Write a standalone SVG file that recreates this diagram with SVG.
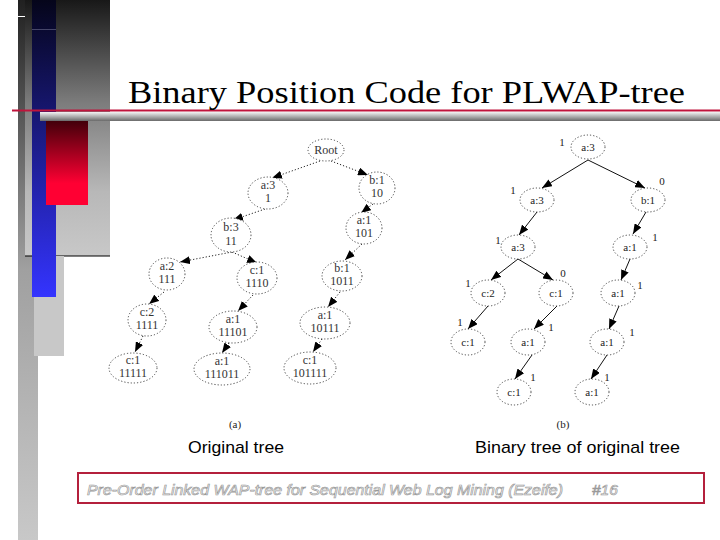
<svg xmlns="http://www.w3.org/2000/svg" width="720" height="540" viewBox="0 0 720 540">
<defs>
<linearGradient id="gOuter" x1="0" y1="0" x2="0" y2="1"><stop offset="0" stop-color="#202020"/><stop offset="0.5" stop-color="#a0a0a0"/><stop offset="1" stop-color="#c8c8c8"/></linearGradient>
<linearGradient id="gBlock" x1="0" y1="0" x2="0" y2="1"><stop offset="0" stop-color="#181818"/><stop offset="0.4" stop-color="#7c7c7c"/><stop offset="0.75" stop-color="#b8b8b8"/><stop offset="1" stop-color="#c8c8c8"/></linearGradient>
<linearGradient id="gBlue" x1="0" y1="0" x2="0" y2="1"><stop offset="0" stop-color="#05051a"/><stop offset="1" stop-color="#3434ff"/></linearGradient>
<linearGradient id="gRed" x1="0" y1="0" x2="0" y2="1"><stop offset="0" stop-color="#3a0008"/><stop offset="0.75" stop-color="#ff0033"/><stop offset="1" stop-color="#ff0033"/></linearGradient>
<linearGradient id="gShade" x1="0" y1="0" x2="0" y2="1"><stop offset="0" stop-color="#f4f4f4"/><stop offset="1" stop-color="#6a6a6a"/></linearGradient>
<marker id="ah" viewBox="0 0 10 8" refX="10" refY="4" markerWidth="10" markerHeight="8" markerUnits="userSpaceOnUse" orient="auto"><path d="M0,0 L10,4 L0,8 z" fill="#000"/></marker>
<style>
.nd{fill:#fff;stroke:#333;stroke-width:0.9;stroke-dasharray:1.2,2}
.lt{font-family:"Liberation Serif",serif;font-size:12px;fill:#333;text-anchor:middle}
.rt{font-family:"Liberation Serif",serif;font-size:11px;fill:#222;text-anchor:middle}
.num{font-family:"Liberation Serif",serif;font-size:11px;fill:#222;text-anchor:middle}
.dl{stroke:#222;stroke-width:1;stroke-dasharray:1.2,2;fill:none;marker-end:url(#ah)}
.sl{stroke:#111;stroke-width:1;fill:none;marker-end:url(#ah)}
.cap{font-family:"Liberation Sans",Arial,sans-serif;font-size:17px;fill:#000}
</style>
</defs>
<rect width="720" height="540" fill="#fff"/>
<g id="decor">
<rect x="18" y="0" width="20" height="540" fill="url(#gOuter)"/>
<rect x="25" y="0" width="85" height="256" fill="url(#gBlock)"/>
<line x1="25" y1="256" x2="110" y2="256" stroke="#000" stroke-width="1"/>
<rect x="34" y="256" width="30" height="100" fill="#c8c8c8"/>
<rect x="32" y="0" width="24" height="297" fill="url(#gBlue)"/>
<line x1="32" y1="29.5" x2="56" y2="29.5" stroke="#555577" stroke-width="0.8"/>
<rect x="46" y="118" width="42" height="87" fill="url(#gRed)"/>
<rect x="40" y="112" width="680" height="9" fill="url(#gShade)"/>
<line x1="12" y1="110.5" x2="720" y2="110.5" stroke="#c0143c" stroke-width="2"/>
<line x1="18" y1="16.5" x2="25" y2="16.5" stroke="#fff" stroke-width="1"/>
</g>
<text x="128" y="103" font-family="'Liberation Serif',serif" font-size="31" fill="#000" textLength="557" lengthAdjust="spacingAndGlyphs">Binary Position Code for PLWAP-tree</text>
<g id="connectors">
<line class="dl" x1="320" y1="161" x2="272" y2="178"/>
<line class="dl" x1="331" y1="161" x2="368" y2="175"/>
<line class="dl" x1="265" y1="209" x2="233" y2="220"/>
<line class="dl" x1="373" y1="204" x2="361" y2="213"/>
<line class="dl" x1="362" y1="244" x2="345" y2="260"/>
<line class="dl" x1="232" y1="252" x2="180" y2="262"/>
<line class="dl" x1="232" y1="252" x2="257" y2="263"/>
<line class="dl" x1="164" y1="292" x2="149" y2="304"/>
<line class="dl" x1="143" y1="336" x2="135" y2="352"/>
<line class="dl" x1="253" y1="295" x2="238" y2="311"/>
<line class="dl" x1="229" y1="343" x2="222" y2="353"/>
<line class="dl" x1="340" y1="292" x2="328" y2="307"/>
<line class="dl" x1="322" y1="339" x2="313" y2="352"/>
<line class="sl" x1="588" y1="160" x2="542" y2="188"/>
<line class="sl" x1="588" y1="160" x2="645" y2="188"/>
<line class="sl" x1="537" y1="212" x2="519" y2="235"/>
<line class="sl" x1="646" y1="212" x2="633" y2="234"/>
<line class="sl" x1="518" y1="259" x2="491" y2="280"/>
<line class="sl" x1="518" y1="259" x2="553" y2="280"/>
<line class="sl" x1="630" y1="259" x2="621" y2="280"/>
<line class="sl" x1="488" y1="306" x2="468" y2="329"/>
<line class="sl" x1="557" y1="306" x2="534" y2="329"/>
<line class="sl" x1="619" y1="306" x2="609" y2="329"/>
<line class="sl" x1="532" y1="355" x2="515" y2="379"/>
<line class="sl" x1="607" y1="355" x2="591" y2="379"/>
</g>
<g id="a-root"><ellipse class="nd" cx="326" cy="150" rx="18" ry="11"/><text class="lt" x="326" y="154">Root</text></g>
<g id="a-a3"><ellipse class="nd" cx="268" cy="193" rx="20" ry="16"/><text class="lt" x="268" y="189">a:3</text><text class="lt" x="268" y="202">1</text></g>
<g id="a-b1"><ellipse class="nd" cx="377" cy="188" rx="18" ry="16"/><text class="lt" x="377" y="184">b:1</text><text class="lt" x="377" y="197">10</text></g>
<g id="a-b3"><ellipse class="nd" cx="231" cy="235" rx="20" ry="17"/><text class="lt" x="231" y="231">b:3</text><text class="lt" x="231" y="245">11</text></g>
<g id="a-a1-101"><ellipse class="nd" cx="364" cy="228" rx="18" ry="16"/><text class="lt" x="364" y="224">a:1</text><text class="lt" x="364" y="237">101</text></g>
<g id="a-a2"><ellipse class="nd" cx="167" cy="274" rx="18" ry="16"/><text class="lt" x="167" y="270">a:2</text><text class="lt" x="167" y="283">111</text></g>
<g id="a-c1-1110"><ellipse class="nd" cx="257" cy="278" rx="20" ry="16"/><text class="lt" x="257" y="274">c:1</text><text class="lt" x="257" y="287">1110</text></g>
<g id="a-b1-1011"><ellipse class="nd" cx="342" cy="276" rx="20" ry="15"/><text class="lt" x="342" y="272">b:1</text><text class="lt" x="342" y="285">1011</text></g>
<g id="a-c2"><ellipse class="nd" cx="147" cy="320" rx="19" ry="16"/><text class="lt" x="147" y="316">c:2</text><text class="lt" x="147" y="329">1111</text></g>
<g id="a-a1-11101"><ellipse class="nd" cx="233" cy="327" rx="24" ry="16"/><text class="lt" x="233" y="323">a:1</text><text class="lt" x="233" y="336">11101</text></g>
<g id="a-a1-10111"><ellipse class="nd" cx="325" cy="323" rx="25" ry="16"/><text class="lt" x="325" y="319">a:1</text><text class="lt" x="325" y="332">10111</text></g>
<g id="a-c1-11111"><ellipse class="nd" cx="133" cy="368" rx="24" ry="15"/><text class="lt" x="133" y="364">c:1</text><text class="lt" x="133" y="377">11111</text></g>
<g id="a-a1-111011"><ellipse class="nd" cx="222" cy="369" rx="28" ry="16"/><text class="lt" x="222" y="365">a:1</text><text class="lt" x="222" y="378">111011</text></g>
<g id="a-c1-101111"><ellipse class="nd" cx="310" cy="368" rx="26" ry="16"/><text class="lt" x="310" y="364">c:1</text><text class="lt" x="310" y="377">101111</text></g>
<g id="b-a3-root"><ellipse class="nd" cx="588" cy="147" rx="17" ry="12"/><text class="rt" x="588" y="151">a:3</text><text class="num" x="562" y="146">1</text></g>
<g id="b-a3-2"><ellipse class="nd" cx="537" cy="200" rx="17" ry="12"/><text class="rt" x="537" y="204">a:3</text><text class="num" x="513" y="194">1</text></g>
<g id="b-b1"><ellipse class="nd" cx="648" cy="200" rx="17" ry="12"/><text class="rt" x="648" y="204">b:1</text><text class="num" x="662" y="185">0</text></g>
<g id="b-a3-3"><ellipse class="nd" cx="518" cy="247" rx="17" ry="12"/><text class="rt" x="518" y="251">a:3</text><text class="num" x="498" y="244">1</text></g>
<g id="b-a1-r1"><ellipse class="nd" cx="630" cy="247" rx="17" ry="12"/><text class="rt" x="630" y="251">a:1</text><text class="num" x="655" y="241">1</text></g>
<g id="b-c2"><ellipse class="nd" cx="488" cy="293" rx="17" ry="13"/><text class="rt" x="488" y="297">c:2</text><text class="num" x="468" y="287">1</text></g>
<g id="b-c1-m"><ellipse class="nd" cx="556" cy="293" rx="17" ry="13"/><text class="rt" x="556" y="297">c:1</text><text class="num" x="563" y="277">0</text></g>
<g id="b-a1-r2"><ellipse class="nd" cx="618" cy="293" rx="17" ry="13"/><text class="rt" x="618" y="297">a:1</text><text class="num" x="640" y="289">1</text></g>
<g id="b-c1-l"><ellipse class="nd" cx="468" cy="342" rx="17" ry="13"/><text class="rt" x="468" y="346">c:1</text><text class="num" x="460" y="326">1</text></g>
<g id="b-a1-m"><ellipse class="nd" cx="528" cy="342" rx="17" ry="13"/><text class="rt" x="528" y="346">a:1</text><text class="num" x="551" y="331">1</text></g>
<g id="b-a1-r3"><ellipse class="nd" cx="607" cy="342" rx="17" ry="13"/><text class="rt" x="607" y="346">a:1</text><text class="num" x="632" y="336">1</text></g>
<g id="b-c1-b"><ellipse class="nd" cx="514" cy="392" rx="17" ry="13"/><text class="rt" x="514" y="396">c:1</text><text class="num" x="533" y="381">1</text></g>
<g id="b-a1-b"><ellipse class="nd" cx="592" cy="392" rx="17" ry="13"/><text class="rt" x="592" y="396">a:1</text><text class="num" x="607" y="381">1</text></g>
<text class="rt" x="235" y="428">(a)</text>
<text class="rt" x="563" y="428">(b)</text>
<text class="cap" x="188" y="453" textLength="96" lengthAdjust="spacingAndGlyphs">Original tree</text>
<text class="cap" x="475" y="453" textLength="205" lengthAdjust="spacingAndGlyphs">Binary tree of original tree</text>
<g id="footer">
<rect x="78" y="473" width="626" height="30" fill="#fff" stroke="#b4203c" stroke-width="2"/>
<text x="87" y="495" font-family="'Liberation Sans',Arial,sans-serif" font-style="italic" font-size="15.5" fill="#fff" stroke="#999" stroke-width="0.7" textLength="476" lengthAdjust="spacingAndGlyphs">Pre-Order Linked WAP-tree for Sequential Web Log Mining (Ezeife)</text>
<text x="592" y="495" font-family="'Liberation Sans',Arial,sans-serif" font-style="italic" font-size="15.5" fill="#fff" stroke="#999" stroke-width="0.7">#16</text>
</g>
</svg>
